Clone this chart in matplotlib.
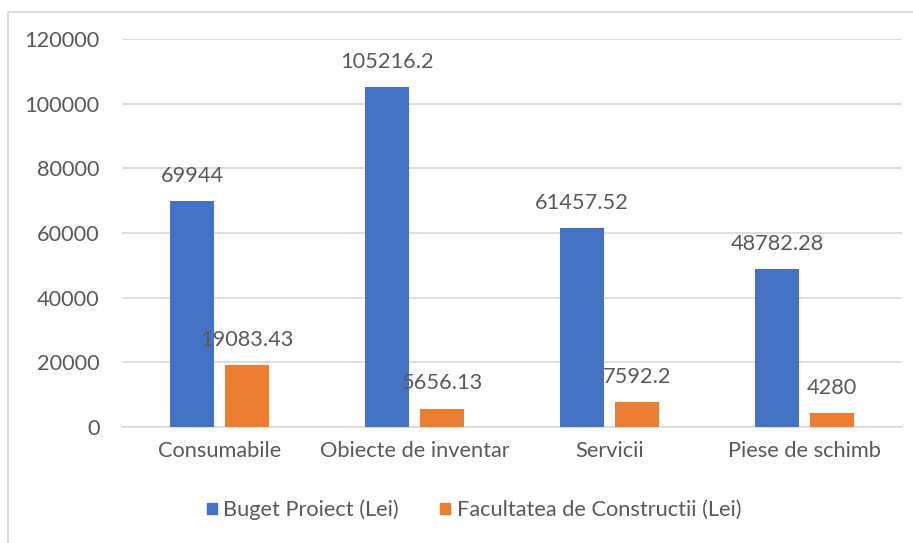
import matplotlib
matplotlib.use("Agg")
import matplotlib.pyplot as plt
from matplotlib.patches import Rectangle
import numpy as np

categories = ["Consumabile", "Obiecte de inventar", "Servicii", "Piese de schimb"]
buget_proiect = [69944, 105216.2, 61457.52, 48782.28]
facultatea = [19083.43, 5656.13, 7592.2, 4280]
buget_labels = ["69944", "105216.2", "61457.52", "48782.28"]
facultatea_labels = ["19083.43", "5656.13", "7592.2", "4280"]
series_names = ["Buget Proiect (Lei)", "Facultatea de Constructii (Lei)"]
yticks = [0, 20000, 40000, 60000, 80000, 100000, 120000]

BLUE = "#4472C4"
ORANGE = "#ED7D31"
TEXT = "#595959"
GRID = "#D9D9D9"
FS = 15.7

plt.rcParams["font.family"] = ["Lato", "DejaVu Sans"]

W, H = 913, 543
fig = plt.figure(figsize=(W / 100, H / 100), dpi=100)

# outer chart border (continues past right and bottom edges)
fig.patches.append(Rectangle((8 / W, -0.1), 1.2, 1 - 12 / H + 0.1,
                             transform=fig.transFigure, fill=False,
                             edgecolor=GRID, linewidth=1.2))

ax = fig.add_axes([122 / W, 1 - 427 / H, (902 - 122) / W, (427 - 39) / H])
x = np.arange(len(categories))
bw = 0.226
off = 0.141
ax.bar(x - off, buget_proiect, bw, color=BLUE, zorder=3)
ax.bar(x + off, facultatea, bw, color=ORANGE, zorder=3)

for xi, v, s in zip(x - off, buget_proiect, buget_labels):
    ax.annotate(s, (xi, v), xytext=(0, 11), textcoords="offset points",
                ha="center", va="bottom", fontsize=FS, color=TEXT)
for xi, v, s in zip(x + off, facultatea, facultatea_labels):
    ax.annotate(s, (xi, v), xytext=(0, 11), textcoords="offset points",
                ha="center", va="bottom", fontsize=FS, color=TEXT)

ax.set_xlim(-0.5, len(categories) - 0.5)
ax.set_ylim(0, 120000)
ax.set_yticks(yticks)
ax.set_yticklabels([str(t) for t in yticks])
ax.set_xticks(x)
ax.set_xticklabels(categories)
ax.tick_params(axis="both", length=0, labelsize=FS, colors=TEXT)
ax.tick_params(axis="y", pad=16)
ax.tick_params(axis="x", pad=10)
ax.yaxis.grid(True, color=GRID, linewidth=1.2, zorder=0)
for sp in ["top", "right", "left"]:
    ax.spines[sp].set_visible(False)
ax.spines["bottom"].set_color(GRID)
ax.spines["bottom"].set_linewidth(1.2)
ax.set_facecolor("none")

handles = [Rectangle((0, 0), 1, 1, color=BLUE), Rectangle((0, 0), 1, 1, color=ORANGE)]
leg = fig.legend(handles, series_names, loc="center", bbox_to_anchor=(474 / W, 1 - 510 / H),
                 ncol=2, frameon=False, fontsize=FS, handlelength=0.46, handleheight=0.46,
                 handletextpad=0.3, columnspacing=1.9)
for t in leg.get_texts():
    t.set_color(TEXT)

fig.savefig("out.png", dpi=100)
